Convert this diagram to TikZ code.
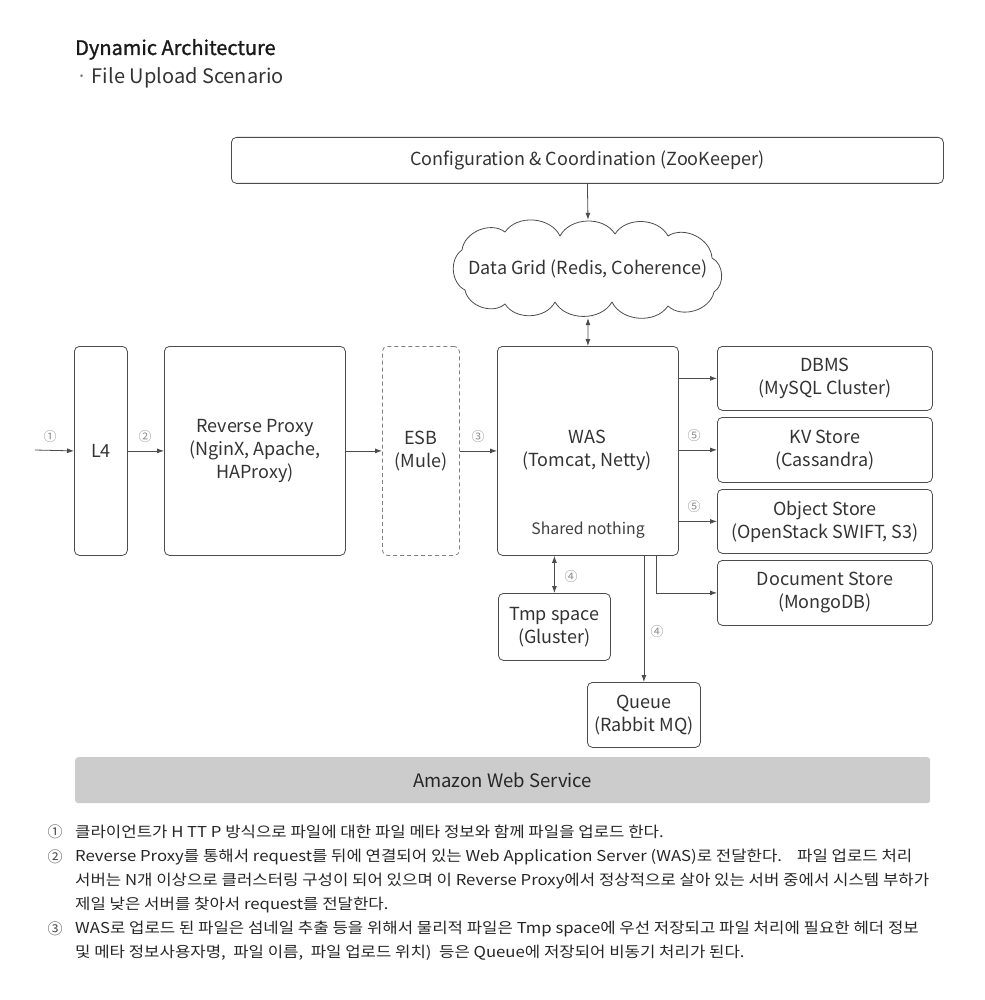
\documentclass[tikz,border=0pt]{standalone}
\usepackage{fontspec}
\setmainfont{Noto Sans CJK KR}
\newfontfamily\titlefont[FakeBold=1.2]{Noto Sans CJK KR}
\newfontfamily\notefont[FakeStretch=1.115]{Noto Sans CJK KR}
\usetikzlibrary{arrows.meta}

\tikzset{
 box/.style={draw=black!70, line width=0.8pt, rounded corners=5pt, anchor=north west, inner sep=0pt, align=center, font=\fontsize{18}{23}\selectfont, text=black!80},
 dbox/.style={box, draw=black!50, dash pattern=on 4pt off 3pt},
 arr/.style={draw=black!70, line width=0.8pt, -{Latex[length=7pt,width=5pt]}},
 darr/.style={draw=black!70, line width=0.8pt, {Latex[length=7pt,width=5pt]}-{Latex[length=7pt,width=5pt]}},
 num/.style={text=black!45, font=\fontsize{13}{13}\selectfont, inner sep=0pt},
 note/.style={anchor=west, inner sep=0pt, font=\notefont\fontsize{15}{15}\selectfont, text=black!85},
 notenum/.style={inner sep=0pt, font=\fontsize{15}{15}\selectfont, text=black!70},
 plain/.style={inner sep=0pt, align=center, text=black!80, font=\fontsize{18}{23}\selectfont},
 cloudline/.style={draw=black!70, line width=0.8pt, line join=round},
 puff/.style={bend left=60},
}

\begin{document}
\begin{tikzpicture}[x=1pt,y=-1pt]
\useasboundingbox (0,0) rectangle (984,1000);

% title
\node[anchor=base west, inner sep=0pt, text=black!90, font=\titlefont\fontsize{20}{20}\selectfont] (title) at (75,55) {Dynamic Architecture};
\node[anchor=base west, inner sep=0pt, text=black!80, font=\fontsize{20}{20}\selectfont] (sub) at (76,84) {{\color{black!50}·} File Upload Scenario};

% top
\node[box, minimum width=712pt, minimum height=46pt] (zk) at (231,137) {Configuration \& Coordination (ZooKeeper)};
\node[inner sep=0pt, minimum width=273pt, minimum height=98pt] (grid) at (588,269) {};
\draw[cloudline] (465,290) to[puff] (462,250) to[puff] (505,232) to[puff] (560,236)
  to[puff] (615,234) to[puff] (668,236) to[puff] (712,258) to[puff] (714,292)
  to[puff] (668,306) to[puff] (612,302) to[puff] (555,302) to[puff] (505,304)
  to[puff] cycle;
\node[plain] (gridtxt) at (588,269) {Data Grid (Redis, Coherence)};

% main row
\node[box, minimum width=53pt, minimum height=209pt] (l4) at (74,346) {L4};
\node[box, minimum width=181pt, minimum height=209pt] (rp) at (164,346) {Reverse Proxy\\(NginX, Apache,\\HAProxy)};
\node[dbox, minimum width=77pt, minimum height=209pt] (esb) at (382,346) {ESB\\(Mule)};
\node[box, minimum width=181pt, minimum height=209pt] (was) at (497,346) {};
\node[plain] (wastxt) at (587,450) {WAS\\(Tomcat, Netty)};
\node[inner sep=0pt, text=black!75, font=\fontsize{15.8}{16}\selectfont] (shared) at (588,530) {Shared nothing};

% stores
\node[box, minimum width=215pt, minimum height=64pt] (dbms) at (717,346) {DBMS\\(MySQL Cluster)};
\node[box, minimum width=215pt, minimum height=65pt] (kv) at (717,417) {KV Store\\(Cassandra)};
\node[box, minimum width=215pt, minimum height=64pt] (obj) at (717,489) {Object Store\\(OpenStack SWIFT, S3)};
\node[box, minimum width=215pt, minimum height=65pt] (doc) at (717,560) {Document Store\\(MongoDB)};

% lower
\node[box, minimum width=112pt, minimum height=67pt] (tmp) at (498,593) {Tmp space\\(Gluster)};
\node[box, minimum width=113pt, minimum height=65pt] (queue) at (587,682) {Queue\\(Rabbit MQ)};

% AWS
\node[fill=black!20, minimum width=855pt, minimum height=46pt, anchor=north west, rounded corners=3pt,
      inner sep=0pt, text=black!85, font=\fontsize{18.5}{18.5}\selectfont] (aws) at (75,757) {Amazon Web Service};

% connectors
\coordinate (in) at (35,450);
\draw[arr] (in) -- (l4.west);
\node[num] (n1) at (50,437) {①};
\draw[arr] (l4.east) -- (rp.west);
\node[num] (n2) at (145,437) {②};
\draw[arr] (rp.east) -- (esb.west);
\draw[arr] (esb.east) -- (was.west);
\node[num] (n3) at (478,437) {③};

\draw[arr] (zk.south) -- (grid.north);
\draw[darr] (grid.south) -- (was.north);

\draw[arr] (was.east |- dbms.west) -- (dbms.west);
\draw[arr] (was.east |- kv.west) -- (kv.west);
\node[num] (n5a) at (694,436) {⑤};
\draw[arr] (was.east |- obj.west) -- (obj.west);
\node[num] (n5b) at (694,507) {⑤};
\draw[arr] ([xshift=-22pt]was.south east) |- (doc.west);

\draw[darr] (was.south -| tmp.north) -- (tmp.north);
\node[num] (n4a) at (571,577) {④};
\draw[arr] (was.south -| queue.north) -- (queue.north);
\node[num] (n4b) at (657,632) {④};

% notes
\node[notenum] (m1) at (55,832) {①};
\node[note] (t1) at (75,832) {클라이언트가 H TT P 방식으로 파일에 대한 파일 메타 정보와 함께 파일을 업로드 한다.};
\node[notenum] (m2) at (55,857) {②};
\node[note] (t2) at (75,857) {Reverse Proxy를 통해서 request를 뒤에 연결되어 있는 Web Application Server (WAS)로 전달한다.\quad 파일 업로드 처리};
\node[note] (t3) at (75,881) {서버는 N개 이상으로 클러스터링 구성이 되어 있으며 이 Reverse Proxy에서 정상적으로 살아 있는 서버 중에서 시스템 부하가};
\node[note] (t4) at (75,905) {제일 낮은 서버를 찾아서 request를 전달한다.};
\node[notenum] (m3) at (55,929) {③};
\node[note] (t5) at (75,929) {WAS로 업로드 된 파일은 섬네일 추출 등을 위해서 물리적 파일은 Tmp space에 우선 저장되고 파일 처리에 필요한 헤더 정보};
\node[note] (t6) at (75,953) {및 메타 정보사용자명,\enspace 파일 이름,\enspace 파일 업로드 위치)\enspace 등은 Queue에 저장되어 비동기 처리가 된다.};
\end{tikzpicture}
\end{document}
